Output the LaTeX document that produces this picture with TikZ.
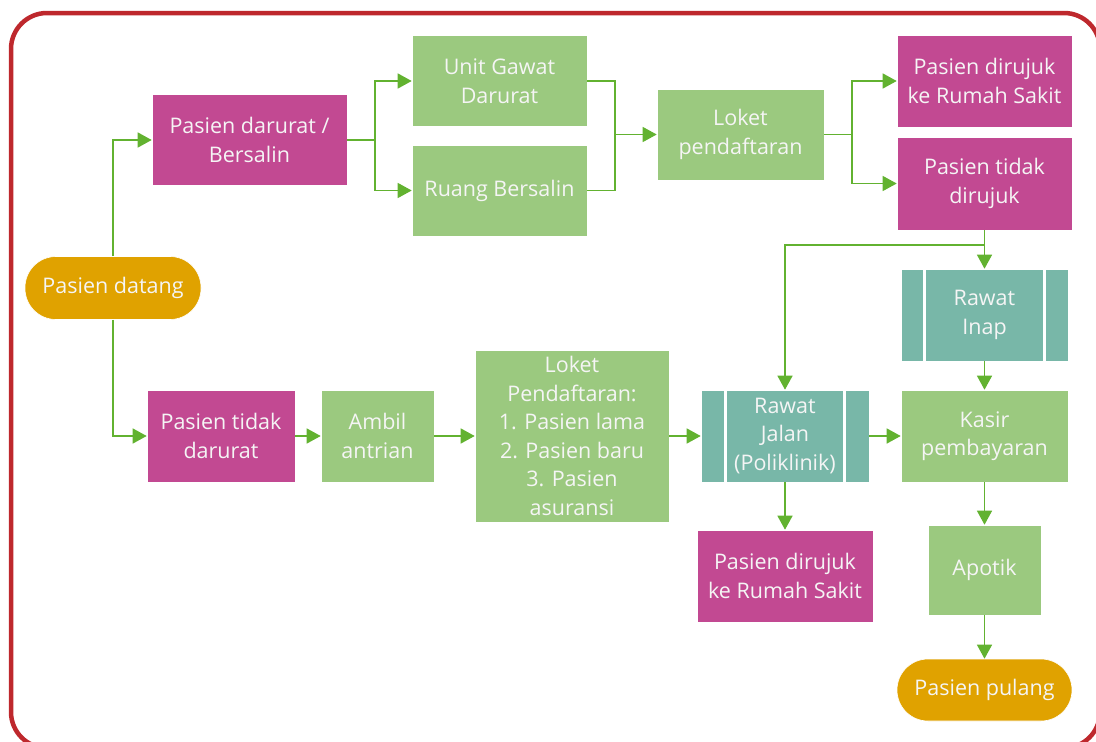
\documentclass[tikz,border=0pt]{standalone}
\usepackage{fontspec}
\setmainfont{Open Sans}
\usetikzlibrary{arrows.meta}
\definecolor{mag}{HTML}{C24992}
\definecolor{grn}{HTML}{9BC97F}
\definecolor{teal2}{HTML}{78B7A8}
\definecolor{orng}{HTML}{E0A200}
\definecolor{arr}{HTML}{62B230}
\definecolor{frame}{HTML}{BE282D}
\tikzset{
  box/.style={rectangle, draw=white, line width=0.6pt, text=white!96!black, align=center, inner sep=0pt,
    font=\fontsize{21.5}{28.5}\selectfont},
  magbox/.style={box, fill=mag},
  grnbox/.style={box, fill=grn},
  tealbox/.style={box, fill=teal2},
  pill/.style={box, fill=orng, rounded corners=31pt},
  conn/.style={draw=arr, line width=1.4pt},
  arw/.style={conn, -{Triangle[length=14pt,width=15pt]}},
}
\begin{document}
\begin{tikzpicture}[x=1pt,y=-1pt]
\useasboundingbox (0,0) rectangle (1096,742);
\begin{scope}
\clip (0,0) rectangle (1096,742);
\draw[frame, line width=4.5pt, rounded corners=36pt] (11,13) rectangle (1100,748);
\end{scope}
% nodes
\node[pill, minimum width=176pt, minimum height=63pt] (datang) at (113,288) {Pasien datang};
\node[magbox, minimum width=195pt, minimum height=91pt] (darurat) at (249.5,140) {Pasien darurat /\\Bersalin};
\node[grnbox, minimum width=175pt, minimum height=91pt] (ugd) at (499.5,81) {Unit Gawat\\Darurat};
\node[grnbox, minimum width=175pt, minimum height=91pt] (rb) at (499.5,190.5) {Ruang Bersalin};
\node[grnbox, minimum width=167pt, minimum height=91pt] (loket1) at (740.5,134.5) {Loket\\pendaftaran};
\node[magbox, minimum width=175pt, minimum height=92pt] (rujuk1) at (984.5,81) {Pasien dirujuk\\ke Rumah Sakit};
\node[magbox, minimum width=175pt, minimum height=93pt] (tidakrujuk) at (984.5,183.5) {Pasien tidak\\dirujuk};
\node[tealbox, minimum width=167pt, minimum height=92pt] (inap) at (984.5,315) {Rawat\\Inap};
\node[magbox, minimum width=148pt, minimum height=92pt] (tidakdarurat) at (221,436) {Pasien tidak\\darurat};
\node[grnbox, minimum width=113pt, minimum height=92pt] (antri) at (377.5,436) {Ambil\\antrian};
\node[grnbox, minimum width=194pt, minimum height=172pt] (loket2) at (572,436) {Loket\\Pendaftaran:\\1. Pasien lama\\2. Pasien baru\\3. Pasien\\asuransi};
\node[tealbox, minimum width=168pt, minimum height=92pt] (jalan) at (785,436) {Rawat\\Jalan\\(Poliklinik)};
\node[grnbox, minimum width=167pt, minimum height=92pt] (kasir) at (984.5,436) {Kasir\\pembayaran};
\node[magbox, minimum width=176pt, minimum height=92pt] (rujuk2) at (785,576) {Pasien dirujuk\\ke Rumah Sakit};
\node[grnbox, minimum width=113pt, minimum height=90pt] (apotik) at (984.5,570) {Apotik};
\node[pill, minimum width=175pt, minimum height=62pt] (pulang) at (984.5,690) {Pasien pulang};
% inner bars of predefined-process boxes
\draw[white, line width=2.5pt] ([xshift=24pt]inap.north west) -- ([xshift=24pt]inap.south west);
\draw[white, line width=2.5pt] ([xshift=-24pt]inap.north east) -- ([xshift=-24pt]inap.south east);
\draw[white, line width=2.5pt] ([xshift=25pt]jalan.north west) -- ([xshift=25pt]jalan.south west);
\draw[white, line width=2.5pt] ([xshift=-25pt]jalan.north east) -- ([xshift=-25pt]jalan.south east);
% connectors
\draw[arw] (datang.north) |- (darurat.west);
\draw[arw] (datang.south) |- (tidakdarurat.west);
\coordinate (s1) at (375,140);
\draw[conn] (darurat.east) -- (s1);
\draw[arw] (s1) |- (ugd.west);
\draw[arw] (s1) |- (rb.west);
\coordinate (s2) at (615,134.5);
\draw[conn] (ugd.east) -| (s2);
\draw[conn] (rb.east) -| (s2);
\draw[arw] (s2) -- (loket1.west);
\coordinate (s3) at (852,134.5);
\draw[conn] (loket1.east) -- (s3);
\draw[arw] (s3) |- (rujuk1.west);
\draw[arw] (s3) |- (tidakrujuk.west);
\coordinate (s4) at (984.5,245);
\draw[arw] (tidakrujuk.south) -- (inap.north);
\draw[arw] (s4) -| (jalan.north);
\draw[arw] (inap.south) -- (kasir.north);
\draw[arw] (tidakdarurat.east) -- (antri.west);
\draw[arw] (antri.east) -- (loket2.west);
\draw[arw] (loket2.east) -- (jalan.west);
\draw[arw] (jalan.east) -- (kasir.west);
\draw[arw] (jalan.south) -- (rujuk2.north);
\draw[arw] (kasir.south) -- (apotik.north);
\draw[arw] (apotik.south) -- (pulang.north);
\end{tikzpicture}
\end{document}
